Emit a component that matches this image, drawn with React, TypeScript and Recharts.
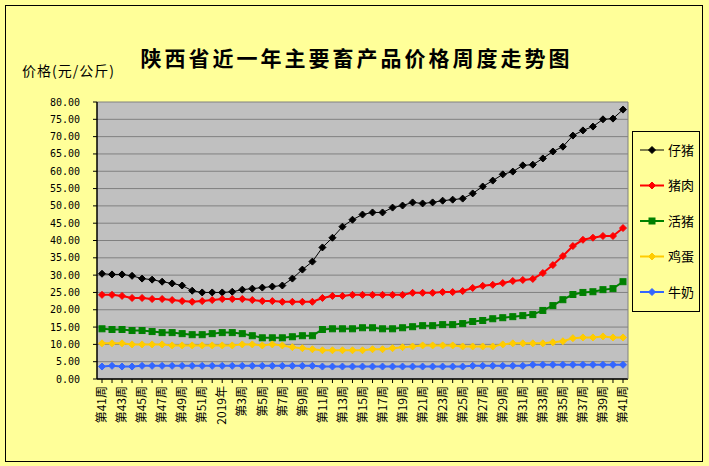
import { CartesianGrid, Line, LineChart, XAxis, YAxis } from "recharts";

const WEEKS = [
  "第41周", "第42周", "第43周", "第44周", "第45周", "第46周", "第47周", "第48周", "第49周", "第50周",
  "第51周", "第52周", "2019年", "第2周", "第3周", "第4周", "第5周", "第6周", "第7周", "第8周",
  "第9周", "第10周", "第11周", "第12周", "第13周", "第14周", "第15周", "第16周", "第17周", "第18周",
  "第19周", "第20周", "第21周", "第22周", "第23周", "第24周", "第25周", "第26周", "第27周", "第28周",
  "第29周", "第30周", "第31周", "第32周", "第33周", "第34周", "第35周", "第36周", "第37周", "第38周",
  "第39周", "第40周", "第41周",
];

const PIGLET = [
  30.4, 30.2, 30.2, 29.8, 29.0, 28.7, 28.1, 27.6, 27.0, 25.5, 25.0, 25.0, 25.0, 25.2, 25.8, 26.1, 26.4, 26.7,
  27.0, 29.0, 31.6, 33.9, 38.0, 40.8, 44.0, 46.0, 47.5, 48.1, 48.1, 49.5, 50.1, 51.0, 50.7, 51.0, 51.5, 51.8,
  52.1, 53.6, 55.6, 57.3, 59.1, 59.9, 61.7, 61.9, 63.7, 65.7, 67.1, 70.3, 71.8, 72.9, 75.0, 75.2, 77.8,
];
const PORK = [
  24.3, 24.3, 24.0, 23.4, 23.4, 23.1, 23.1, 22.8, 22.5, 22.3, 22.5, 22.8, 23.1, 23.1, 23.1, 22.8, 22.5, 22.5,
  22.3, 22.3, 22.3, 22.3, 23.4, 24.0, 24.0, 24.3, 24.3, 24.3, 24.3, 24.3, 24.3, 24.9, 24.9, 24.9, 25.1, 25.1,
  25.4, 26.3, 26.9, 27.2, 27.7, 28.3, 28.6, 28.9, 30.6, 32.9, 35.5, 38.4, 40.2, 40.8, 41.3, 41.3, 43.6,
];
const HOG = [
  14.5, 14.3, 14.3, 14.0, 14.0, 13.7, 13.4, 13.4, 13.1, 12.8, 12.8, 13.1, 13.4, 13.4, 13.1, 12.5, 11.9, 11.9,
  11.9, 12.2, 12.5, 12.5, 14.3, 14.5, 14.5, 14.5, 14.8, 14.8, 14.5, 14.5, 14.8, 15.1, 15.4, 15.4, 15.7, 15.7,
  16.0, 16.6, 16.9, 17.4, 17.7, 18.0, 18.3, 18.6, 19.8, 21.2, 22.9, 24.4, 25.0, 25.2, 25.8, 26.1, 28.1,
];
const EGG = [
  10.3, 10.3, 10.3, 10.0, 10.0, 10.0, 10.0, 9.7, 9.7, 9.7, 9.7, 9.7, 9.7, 9.7, 10.0, 10.0, 9.7, 10.0,
  9.7, 9.2, 8.9, 8.6, 8.3, 8.3, 8.3, 8.3, 8.3, 8.6, 8.6, 8.9, 9.2, 9.4, 9.7, 9.7, 9.7, 9.7,
  9.4, 9.4, 9.4, 9.4, 10.0, 10.3, 10.3, 10.3, 10.3, 10.6, 10.9, 11.8, 12.0, 12.0, 12.3, 12.0, 12.0,
];
const MILK = [
  3.6, 3.8, 3.6, 3.6, 3.8, 3.8, 3.8, 3.8, 3.8, 3.8, 3.8, 3.8, 3.8, 3.8, 3.8, 3.8, 3.8, 3.8,
  3.8, 3.8, 3.8, 3.8, 3.6, 3.6, 3.6, 3.6, 3.6, 3.6, 3.6, 3.6, 3.6, 3.6, 3.6, 3.6, 3.6, 3.6,
  3.6, 3.8, 3.8, 3.8, 3.8, 3.8, 3.8, 4.1, 4.1, 4.1, 4.1, 4.1, 4.1, 4.1, 4.1, 4.1, 4.1,
];

const Y_TICKS = [0, 5, 10, 15, 20, 25, 30, 35, 40, 45, 50, 55, 60, 65, 70, 75, 80];

const SERIES = [
  { key: "piglet", name: "仔猪", color: "#000000", shape: "diamond", width: 1 },
  { key: "pork", name: "猪肉", color: "#ff0000", shape: "diamond", width: 2 },
  { key: "hog", name: "活猪", color: "#008000", shape: "square", width: 2 },
  { key: "egg", name: "鸡蛋", color: "#ffcc00", shape: "diamond", width: 2 },
  { key: "milk", name: "牛奶", color: "#3366ff", shape: "diamond", width: 2 },
];

const data = WEEKS.map((w, i) => ({
  week: w,
  piglet: PIGLET[i],
  pork: PORK[i],
  hog: HOG[i],
  egg: EGG[i],
  milk: MILK[i],
}));

const CJK = '"Noto Sans CJK SC", "Noto Sans", sans-serif';

function Marker({ cx, cy, color, shape }: { cx: number; cy: number; color: string; shape: string }) {
  if (shape === "square") {
    return <rect x={cx - 3} y={cy - 3} width={6} height={6} fill={color} stroke={color} />;
  }
  const r = 3.5;
  return (
    <path
      d={`M${cx},${cy - r}L${cx + r},${cy}L${cx},${cy + r}L${cx - r},${cy}Z`}
      fill={color}
      stroke={color}
      strokeWidth={1}
    />
  );
}

function makeDot(color: string, shape: string) {
  return (props: any) => {
    const { cx, cy, index } = props;
    if (cx == null || cy == null) return <g key={index} />;
    return (
      <g key={index}>
        <Marker cx={cx} cy={cy} color={color} shape={shape} />
      </g>
    );
  };
}

// only every other week gets a label, like the original
function WeekTick(props: any) {
  const { x, y, payload, index } = props;
  const i = payload?.index ?? index;
  if (i % 2 !== 0) return <g />;
  return (
    <g transform={`translate(${x},${y})`}>
      <text
        transform="rotate(-90)"
        x={-1}
        y={0}
        dy="0.35em"
        textAnchor="end"
        fill="#000"
        fontSize={12}
        fontFamily={CJK}
      >
        {payload.value}
      </text>
    </g>
  );
}

function LegendBox() {
  return (
    <svg
      width={69}
      height={182}
      style={{ position: "absolute", left: 632, top: 131, overflow: "visible" }}
    >
      <rect x={0.5} y={0.5} width={67} height={180} fill="none" stroke="#000" />
      {SERIES.map((s, i) => {
        const y = 19 + i * 35.5;
        return (
          <g key={s.key}>
            <line x1={8} x2={32} y1={y} y2={y} stroke={s.color} strokeWidth={s.width} />
            <Marker cx={20} cy={y} color={s.color} shape={s.shape} />
            <text x={36} y={y} dy="0.36em" fontSize={13} fontFamily={CJK} fill="#000">
              {s.name}
            </text>
          </g>
        );
      })}
    </svg>
  );
}

export default function App() {
  return (
    <div
      style={{
        position: "absolute",
        left: 0,
        top: 0,
        width: 709,
        height: 466,
        background: "#ffff99",
        overflow: "hidden",
      }}
    >
      <div
        style={{
          position: "absolute",
          left: 5,
          top: 5,
          width: 698,
          height: 457,
          boxSizing: "border-box",
          border: "1px solid #000",
        }}
      />
      <div
        style={{
          position: "absolute",
          left: 0,
          width: 709,
          top: 42,
          textAlign: "center",
          fontFamily: CJK,
          fontWeight: 700,
          fontSize: 21,
          letterSpacing: 3,
          lineHeight: "30px",
          paddingLeft: 2,
        }}
      >
        陕西省近一年主要畜产品价格周度走势图
      </div>
      <div
        style={{
          position: "absolute",
          left: 22,
          top: 60,
          fontFamily: CJK,
          fontSize: 14,
          letterSpacing: 1,
          lineHeight: "20px",
        }}
      >
        价格(元/公斤)
      </div>
      <LineChart
        width={709}
        height={466}
        data={data}
        margin={{ top: 102, right: 80, bottom: 27, left: 37 }}
        style={{ position: "absolute", left: 0, top: 0 }}
      >
        <CartesianGrid vertical={false} stroke="#808080" fill="#c0c0c0" fillOpacity={1} />
        <XAxis
          dataKey="week"
          interval={0}
          height={60}
          padding={{ left: 5, right: 5 }}
          axisLine={{ stroke: "#000", strokeWidth: 1.5 }}
          tickLine={{ stroke: "#000" }}
          tickSize={4}
          tick={<WeekTick />}
          allowDuplicatedCategory={true}
        />
        <YAxis
          width={60}
          domain={[0, 80]}
          ticks={Y_TICKS}
          interval={0}
          tickFormatter={(v: number) => v.toFixed(2)}
          axisLine={{ stroke: "#000", strokeWidth: 1.5 }}
          tickLine={{ stroke: "#000" }}
          tickSize={4}
          tickMargin={13}
          tick={{ fill: "#000", fontSize: 10, fontFamily: '"DejaVu Sans Mono", monospace' }}
        />
        <YAxis
          yAxisId="right"
          orientation="right"
          width={1}
          domain={[0, 80]}
          tick={false}
          tickLine={false}
          axisLine={{ stroke: "#808080" }}
        />
        {SERIES.map((s) => (
          <Line
            key={s.key}
            dataKey={s.key}
            name={s.name}
            type="linear"
            stroke={s.color}
            strokeWidth={s.width}
            dot={makeDot(s.color, s.shape)}
            activeDot={false}
            isAnimationActive={false}
          />
        ))}
      </LineChart>
      <LegendBox />
    </div>
  );
}
